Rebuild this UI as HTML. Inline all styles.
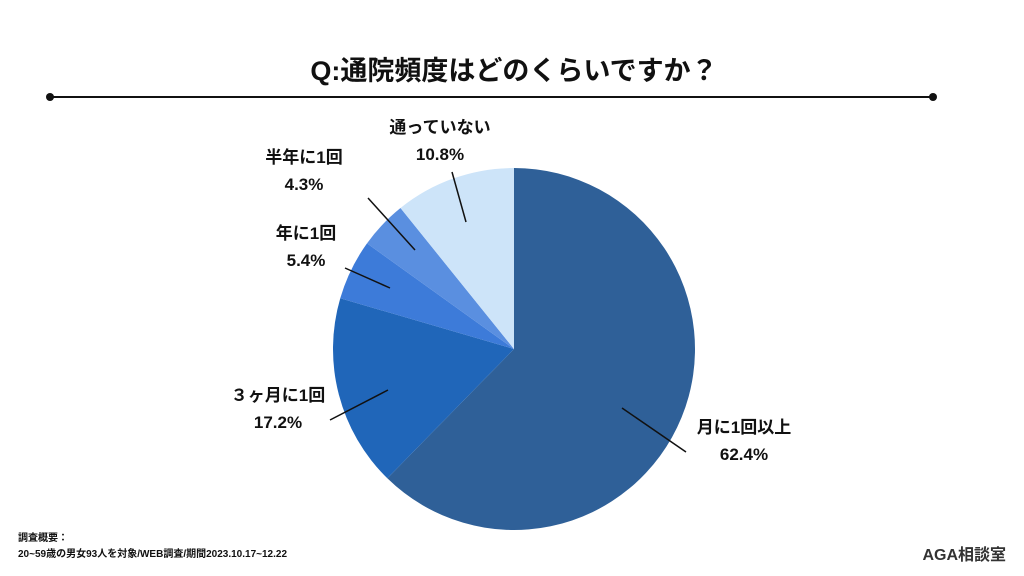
<!DOCTYPE html>
<html><head><meta charset="utf-8"><style>
body{margin:0;width:1024px;height:576px;background:#fff;overflow:hidden;font-family:"Liberation Sans","Noto Sans CJK JP",sans-serif;}
svg{display:block}
text{font-family:"Liberation Sans","Noto Sans CJK JP",sans-serif;}
</style></head><body>
<svg width="1024" height="576">
<text x="514" y="80" text-anchor="middle" font-size="27" font-weight="700" fill="#111">Q:通院頻度はどのくらいですか？</text>
<line x1="50" y1="97" x2="933" y2="97" stroke="#111" stroke-width="2"/>
<circle cx="50" cy="97" r="4" fill="#111"/>
<circle cx="933" cy="97" r="4" fill="#111"/>
<g id="slices"></g>
<g id="labels" font-size="17" font-weight="700" fill="#111" text-anchor="middle"></g>
<text x="18" y="541" font-size="10" font-weight="700" fill="#111">調査概要：</text>
<text x="18" y="557" font-size="10" font-weight="700" fill="#111">20~59歳の男女93人を対象/WEB調査/期間2023.10.17~12.22</text>
<text x="1006" y="560" text-anchor="end" font-size="16" font-weight="700" fill="#333">AGA相談室</text>
</svg>
<script>
const categories=["月に1回以上","３ヶ月に1回","年に1回","半年に1回","通っていない"];
const values=[62.4,17.2,5.4,4.3,10.8];
const colors=["#2f6098","#2066b9","#3d7bd9","#5a8fe0","#cde4f9"];
const cx=514,cy=349,r=181;
const NS="http://www.w3.org/2000/svg";
const total=values.reduce((a,b)=>a+b,0);
function pt(a,rad){return [cx+rad*Math.sin(a),cy-rad*Math.cos(a)];}
const sg=document.getElementById('slices');
let acc=0;
values.forEach((v,i)=>{
  const a0=acc/total*2*Math.PI;acc+=v;const a1=acc/total*2*Math.PI;
  const p0=pt(a0,r),p1=pt(a1,r);
  const p=document.createElementNS(NS,'path');
  p.setAttribute('d',`M${cx},${cy}L${p0[0]},${p0[1]}A${r},${r} 0 ${a1-a0>Math.PI?1:0} 1 ${p1[0]},${p1[1]}Z`);
  p.setAttribute('fill',colors[i]);
  
  
  sg.appendChild(p);
});
// label placement (annotation positions)
const lab=[
 {t:[744,433],l:[622,408,686,452]},
 {t:[278,401],l:[388,390,330,420]},
 {t:[306,239],l:[345,268,390,288]},
 {t:[304,163],l:[368,198,415,250]},
 {t:[440,133],l:[452,172,466,222]}
];
const lg=document.getElementById('labels');
values.forEach((v,i)=>{
  const L=lab[i];
  const ln=document.createElementNS(NS,'line');
  ln.setAttribute('x1',L.l[0]);ln.setAttribute('y1',L.l[1]);ln.setAttribute('x2',L.l[2]);ln.setAttribute('y2',L.l[3]);
  ln.setAttribute('stroke','#111');ln.setAttribute('stroke-width','1.5');
  
  
  lg.appendChild(ln);
  const t1=document.createElementNS(NS,'text');
  t1.setAttribute('x',L.t[0]);t1.setAttribute('y',L.t[1]);t1.textContent=categories[i];
  
  
  lg.appendChild(t1);
  const t2=document.createElementNS(NS,'text');
  t2.setAttribute('x',L.t[0]);t2.setAttribute('y',L.t[1]+27);t2.textContent=v.toFixed(1)+'%';
  
  
  lg.appendChild(t2);
});
</script>
</body></html>
